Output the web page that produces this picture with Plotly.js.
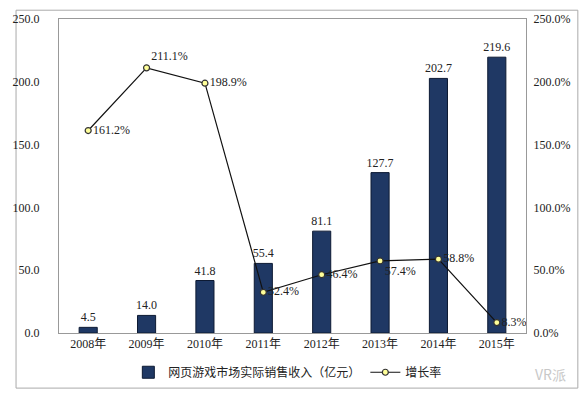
<!DOCTYPE html>
<html><head><meta charset="utf-8">
<script src="https://cdn.plot.ly/plotly-3.0.1.min.js"></script>
<style>html,body{margin:0;padding:0;background:#fff;}#c{width:581px;height:399px;}</style>
</head><body><div id="c"></div>
<script>
const years = ['2008年','2009年','2010年','2011年','2012年','2013年','2014年','2015年'];
const revenue = [4.5, 14.0, 41.8, 55.4, 81.1, 127.7, 202.7, 219.6];
const growth = [161.2, 211.1, 198.9, 32.4, 46.4, 57.4, 58.8, 8.3];
const leftTicks = [0, 50, 100, 150, 200, 250];
const rightTicks = [0, 50, 100, 150, 200, 250];

const FONT = '"Liberation Serif", "Noto Sans CJK SC", serif';
const traces = [
  {type:'bar', x: years, y: revenue, name:'网页游戏市场实际销售收入（亿元）',
   marker:{color:'#1f3864', line:{color:'#0d1a33', width:1}}, width:0.31,
   text: revenue.map(v=>v.toFixed(1)), textposition:'outside', cliponaxis:false, constraintext:'none',
   textfont:{family:FONT, size:12, color:'#222'}, hoverinfo:'none'},
  {type:'scatter', mode:'lines+markers+text', x: years, y: growth, yaxis:'y2', name:'增长率',
   line:{color:'#111', width:1.2},
   marker:{symbol:'circle', size:6, color:'#ffff99', line:{color:'#333', width:1.2}},
   text: growth.map(v=>v.toFixed(1)+'%'),
   textposition:['middle right','top right','middle right','middle right','middle right','bottom right','middle right','middle right'],
   cliponaxis:false,
   textfont:{family:FONT, size:12, color:'#222'}, hoverinfo:'none'}
];
const layout = {
  width:581, height:399, margin:{l:59, r:55, t:19, b:61},
  paper_bgcolor:'#fff', plot_bgcolor:'#fff', showlegend:true,
  font:{family:FONT, size:11, color:'#222'},
  bargap:0.69,
  xaxis:{type:'category', showline:true, linecolor:'#999', linewidth:1, mirror:true, ticks:'',
         tickfont:{family:FONT, size:12, color:'#222'}, fixedrange:true},
  yaxis:{range:[0,250], tickvals:leftTicks, ticktext:leftTicks.map(v=>v.toFixed(1)), showgrid:false, zeroline:false,
         showline:true, linecolor:'#999', linewidth:1, ticks:'', tickfont:{family:FONT, size:12, color:'#222'}, ticklabelstandoff:16},
  yaxis2:{range:[0,250], overlaying:'y', side:'right', tickvals:rightTicks, ticktext:rightTicks.map(v=>v.toFixed(1)+'%'),
          showgrid:false, zeroline:false, showline:true, linecolor:'#999', linewidth:1, ticks:'',
          tickfont:{family:FONT, size:12, color:'#222'}, ticklabelstandoff:4},
  legend:{orientation:'h', x:0.49, xanchor:'center', y:-0.125, yanchor:'middle',
          font:{family:FONT, size:12, color:'#222'}, itemwidth:30, traceorder:'normal'},
  shapes:[{type:'rect', xref:'paper', yref:'paper', x0:-0.092, x1:1.111, y0:-0.1755, y1:1.028,
           line:{color:'#aaa', width:1}, fillcolor:'rgba(0,0,0,0)', layer:'below'}],
  annotations:[{xref:'paper', yref:'paper', x:1.09, y:-0.13, text:'VR派', showarrow:false,
                font:{family:'"Noto Sans CJK SC", sans-serif', size:14, color:'#c8c8c8'}, xanchor:'right', yanchor:'middle'}]
};
Plotly.newPlot('c', traces, layout, {staticPlot:true, displayModeBar:false});
</script></body></html>
